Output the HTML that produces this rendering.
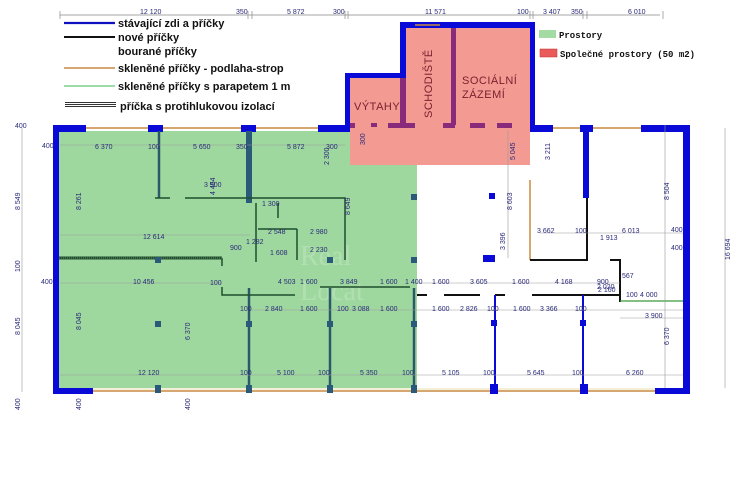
<!DOCTYPE html>
<html><head><meta charset="utf-8"><style>
html,body{margin:0;padding:0;background:#fff;}
svg{display:block;}
.d{font-family:"Liberation Sans",sans-serif;font-size:7px;fill:#2a2a7a;}
.l{font-family:"Liberation Sans",sans-serif;font-size:11px;font-weight:bold;fill:#111;}
.m{font-family:"Liberation Mono",monospace;font-size:9px;font-weight:bold;fill:#111;}
.r{font-family:"Liberation Sans",sans-serif;font-size:11px;fill:#7a2030;letter-spacing:0.5px;}
</style></head><body>
<svg width="740" height="493" viewBox="0 0 740 493" xmlns="http://www.w3.org/2000/svg">
<line x1="60" y1="15" x2="660" y2="15" stroke="#888" stroke-width="0.7"/>
<g stroke="#888" stroke-width="0.7">
<line x1="60" y1="11" x2="60" y2="19"/><line x1="248" y1="11" x2="248" y2="19"/><line x1="252" y1="11" x2="252" y2="19"/>
<line x1="345" y1="11" x2="345" y2="19"/><line x1="348" y1="11" x2="348" y2="19"/><line x1="530" y1="11" x2="530" y2="19"/><line x1="533" y1="11" x2="533" y2="19"/>
<line x1="583" y1="11" x2="583" y2="19"/><line x1="587" y1="11" x2="587" y2="19"/><line x1="663" y1="11" x2="663" y2="19"/>
</g>
<text class="d" x="140" y="14">12 120</text><text class="d" x="236" y="14">350</text><text class="d" x="287" y="14">5 872</text>
<text class="d" x="333" y="14">300</text><text class="d" x="425" y="14">11 571</text><text class="d" x="517" y="14">100</text>
<text class="d" x="543" y="14">3 407</text><text class="d" x="571" y="14">350</text><text class="d" x="628" y="14">6 010</text>

<line x1="64" y1="23" x2="115" y2="23" stroke="#1010c0" stroke-width="2.2"/>
<text class="l" x="118" y="27">stávající zdi a příčky</text>
<line x1="64" y1="37" x2="115" y2="37" stroke="#111" stroke-width="2"/>
<text class="l" x="118" y="41">nové příčky</text>
<text class="l" x="118" y="55">bourané příčky</text>
<line x1="64" y1="68" x2="115" y2="68" stroke="#c88a40" stroke-width="1.5"/>
<text class="l" x="118" y="72">skleněné příčky - podlaha-strop</text>
<line x1="64" y1="86" x2="115" y2="86" stroke="#7fcf8f" stroke-width="1.5"/>
<text class="l" x="118" y="90">skleněné příčky s parapetem 1 m</text>
<defs><pattern id="hatch" width="4" height="2" patternUnits="userSpaceOnUse"><rect width="4" height="1" fill="#333"/></pattern></defs>
<rect x="65" y="101" width="51" height="7" fill="url(#hatch)"/>
<text class="l" x="120" y="110">příčka s protihlukovou izolací</text>

<rect x="539" y="30" width="17" height="8" fill="#a3dba3"/>
<text class="m" x="559" y="38">Prostory</text>
<rect x="540" y="49" width="17" height="8" fill="#ea5a5a" stroke="#c03030" stroke-width="0.5"/>
<text class="m" x="560" y="57">Společné prostory (50 m2)</text>

<polygon points="59,131 350,131 350,165 417,165 417,388 59,388" fill="#9fd89f"/>
<rect x="350" y="28" width="180" height="137" fill="#f39b93"/>
<rect x="345" y="22" width="55" height="56" fill="#fff"/>

<text x="300" y="265" font-family="Liberation Serif,serif" font-size="28" fill="#fff" opacity="0.2">Real</text>
<text x="300" y="300" font-family="Liberation Serif,serif" font-size="28" fill="#fff" opacity="0.2">Locat</text>

<g fill="#0a0ad8">
<rect x="53" y="125" width="33" height="7"/><rect x="148" y="125" width="15" height="7"/><rect x="241" y="125" width="15" height="7"/>
<rect x="318" y="125" width="32" height="7"/>
<rect x="53" y="125" width="6" height="269"/>
<rect x="53" y="388" width="40" height="6"/>
<rect x="345" y="73" width="5" height="59"/><rect x="345" y="73" width="60" height="5"/>
<rect x="400" y="22" width="6" height="56"/><rect x="400" y="22" width="135" height="6"/>
<rect x="530" y="22" width="5" height="110"/>
<rect x="530" y="125" width="23" height="7"/><rect x="580" y="125" width="13" height="7"/><rect x="641" y="125" width="49" height="7"/>
<rect x="683" y="125" width="7" height="269"/>
<rect x="655" y="388" width="35" height="6"/>
<rect x="583" y="130" width="6" height="68"/>
</g>
<g stroke="#c88a40" stroke-width="1.5">
<line x1="86" y1="128" x2="148" y2="128"/><line x1="163" y1="128" x2="241" y2="128"/><line x1="256" y1="128" x2="318" y2="128"/>
<line x1="553" y1="128" x2="580" y2="128"/><line x1="593" y1="128" x2="641" y2="128"/>
<line x1="415" y1="25" x2="440" y2="25"/>
<line x1="93" y1="391" x2="655" y2="391"/>
<line x1="530" y1="180" x2="530" y2="260"/>
</g>
<line x1="93" y1="389" x2="655" y2="389" stroke="#e8e0b0" stroke-width="1"/>
<g fill="#8a2a7a">
<rect x="400" y="78" width="6" height="47"/><rect x="451" y="28" width="5" height="97"/>
<rect x="350" y="123" width="5" height="5"/><rect x="371" y="123" width="6" height="4"/><rect x="388" y="123" width="17" height="5"/>
<rect x="405" y="123" width="10" height="5"/><rect x="443" y="123" width="12" height="5"/><rect x="470" y="123" width="15" height="5"/><rect x="497" y="123" width="15" height="5"/>
</g>
<text class="r" x="354" y="110">VÝTAHY</text>
<text class="r" x="432" y="118" transform="rotate(-90 432 118)">SCHODIŠTĚ</text>
<text class="r" x="462" y="84">SOCIÁLNÍ</text>
<text class="r" x="462" y="98">ZÁZEMÍ</text>

<g stroke="#2a5a6a" stroke-width="2.5" fill="none">
<line x1="159" y1="131" x2="159" y2="198"/><line x1="249" y1="131" x2="249" y2="203"/>
<line x1="249" y1="288" x2="249" y2="388"/><line x1="330" y1="288" x2="330" y2="388"/><line x1="414" y1="288" x2="414" y2="388"/>
</g>
<rect x="246" y="131" width="6" height="72" fill="#2a5a7a"/>
<g stroke="#1e4e2e" stroke-width="1.5" fill="none">
<line x1="155" y1="198" x2="170" y2="198"/><line x1="185" y1="198" x2="250" y2="198"/>
<polyline points="250,198 345,198 345,260"/>
<polyline points="256,203 256,262"/><line x1="258" y1="229" x2="297" y2="229"/>
<line x1="297" y1="229" x2="297" y2="260"/><line x1="278" y1="203" x2="278" y2="218"/>
<polyline points="222,287 222,295 295,295"/><line x1="320" y1="287" x2="410" y2="287"/>
<line x1="59" y1="258" x2="222" y2="258" stroke-width="3"/><line x1="222" y1="258" x2="222" y2="266"/>
</g>
<line x1="59" y1="258" x2="222" y2="258" stroke="#6a8a6a" stroke-width="1" stroke-dasharray="1,1"/>
<g stroke="#111" stroke-width="2" fill="none">
<line x1="417" y1="295" x2="427" y2="295"/><line x1="444" y1="295" x2="480" y2="295"/><line x1="495" y1="295" x2="505" y2="295"/><line x1="532" y1="295" x2="620" y2="295"/>
<polyline points="530,260 587,260 587,198"/><polyline points="610,260 620,260 620,302"/>
<line x1="495" y1="295" x2="495" y2="388" stroke="#0a0ad8"/><line x1="583" y1="295" x2="583" y2="388" stroke="#0a0ad8"/>
</g>
<line x1="620" y1="301" x2="683" y2="301" stroke="#3a9a3a" stroke-width="1.2"/>
<g fill="#0a0ad8"><rect x="490" y="384" width="8" height="10"/><rect x="580" y="384" width="8" height="10"/><rect x="491" y="320" width="6" height="6"/><rect x="580" y="320" width="6" height="6"/>
<rect x="489" y="193" width="6" height="6"/><rect x="483" y="255" width="12" height="7"/></g>
<g fill="#2a5a7a"><rect x="155" y="321" width="6" height="6"/><rect x="246" y="321" width="6" height="6"/><rect x="327" y="321" width="6" height="6"/><rect x="411" y="321" width="6" height="6"/>
<rect x="155" y="257" width="6" height="6"/><rect x="411" y="194" width="6" height="6"/><rect x="411" y="257" width="6" height="6"/><rect x="327" y="257" width="6" height="6"/>
<rect x="155" y="385" width="6" height="8"/><rect x="246" y="385" width="6" height="8"/><rect x="327" y="385" width="6" height="8"/><rect x="411" y="385" width="6" height="8"/></g>

<g stroke="#999" stroke-width="0.6" fill="none">
<line x1="60" y1="145" x2="345" y2="145"/><line x1="60" y1="235" x2="250" y2="235"/><line x1="60" y1="283" x2="222" y2="283"/>
<line x1="60" y1="375" x2="683" y2="375"/><line x1="250" y1="310" x2="683" y2="310"/><line x1="417" y1="283" x2="620" y2="283"/>
<line x1="540" y1="233" x2="683" y2="233"/><line x1="620" y1="318" x2="683" y2="318"/>
<line x1="22" y1="128" x2="22" y2="392"/><line x1="725" y1="128" x2="725" y2="388"/><line x1="665" y1="125" x2="665" y2="388"/>
<line x1="508" y1="130" x2="508" y2="258"/>
</g>
<text class="d" x="42" y="148">400</text><text class="d" x="95" y="149">6 370</text><text class="d" x="148" y="149">100</text><text class="d" x="193" y="149">5 650</text>
<text class="d" x="236" y="149">350</text><text class="d" x="287" y="149">5 872</text><text class="d" x="326" y="149">300</text>
<text class="d" x="204" y="187">3 900</text><text class="d" x="143" y="239">12 614</text><text class="d" x="133" y="284">10 456</text><text class="d" x="210" y="285">100</text>
<text class="d" x="138" y="375">12 120</text><text class="d" x="240" y="375">100</text><text class="d" x="277" y="375">5 100</text><text class="d" x="318" y="375">100</text><text class="d" x="360" y="375">5 350</text>
<text class="d" x="402" y="375">100</text><text class="d" x="442" y="375">5 105</text><text class="d" x="483" y="375">100</text><text class="d" x="527" y="375">5 645</text><text class="d" x="572" y="375">100</text><text class="d" x="626" y="375">6 260</text>
<text class="d" x="240" y="311">100</text><text class="d" x="265" y="311">2 840</text><text class="d" x="300" y="311">1 600</text><text class="d" x="337" y="311">100</text><text class="d" x="352" y="311">3 088</text><text class="d" x="380" y="311">1 600</text>
<text class="d" x="432" y="311">1 600</text><text class="d" x="460" y="311">2 826</text><text class="d" x="487" y="311">100</text><text class="d" x="513" y="311">1 600</text><text class="d" x="540" y="311">3 366</text><text class="d" x="575" y="311">100</text>
<text class="d" x="278" y="284">4 503</text><text class="d" x="300" y="284">1 600</text><text class="d" x="340" y="284">3 849</text><text class="d" x="380" y="284">1 600</text><text class="d" x="405" y="284">1 400</text>
<text class="d" x="432" y="284">1 600</text><text class="d" x="470" y="284">3 605</text><text class="d" x="512" y="284">1 600</text><text class="d" x="555" y="284">4 168</text><text class="d" x="597" y="284">900</text>
<text class="d" x="626" y="297">100</text><text class="d" x="640" y="297">4 000</text><text class="d" x="645" y="318">3 900</text><text class="d" x="622" y="278">567</text>
<text class="d" x="537" y="233">3 662</text><text class="d" x="575" y="233">100</text><text class="d" x="622" y="233">6 013</text><text class="d" x="671" y="232">400</text><text class="d" x="671" y="250">400</text><text class="d" x="600" y="240">1 913</text>
<text class="d" x="598" y="292">2 160</text><text class="d" x="597" y="289">2 020</text>
<text class="d" x="262" y="206">1 300</text><text class="d" x="268" y="234">2 548</text><text class="d" x="310" y="234">2 980</text><text class="d" x="246" y="244">1 282</text>
<text class="d" x="230" y="250">900</text><text class="d" x="270" y="255">1 608</text><text class="d" x="310" y="252">2 230</text>
<text class="d" x="15" y="128">400</text><text class="d" x="41" y="284">400</text>
<text class="d" x="20" y="210" transform="rotate(-90 20 210)">8 549</text><text class="d" x="20" y="272" transform="rotate(-90 20 272)">100</text>
<text class="d" x="20" y="335" transform="rotate(-90 20 335)">8 045</text><text class="d" x="20" y="410" transform="rotate(-90 20 410)">400</text>
<text class="d" x="81" y="210" transform="rotate(-90 81 210)">8 261</text><text class="d" x="81" y="330" transform="rotate(-90 81 330)">8 045</text>
<text class="d" x="190" y="340" transform="rotate(-90 190 340)">6 370</text><text class="d" x="215" y="195" transform="rotate(-90 215 195)">4 454</text>
<text class="d" x="81" y="410" transform="rotate(-90 81 410)">400</text><text class="d" x="190" y="410" transform="rotate(-90 190 410)">400</text>
<text class="d" x="730" y="260" transform="rotate(-90 730 260)">16 694</text><text class="d" x="669" y="200" transform="rotate(-90 669 200)">8 504</text>
<text class="d" x="669" y="345" transform="rotate(-90 669 345)">6 370</text><text class="d" x="512" y="210" transform="rotate(-90 512 210)">8 603</text>
<text class="d" x="505" y="250" transform="rotate(-90 505 250)">3 396</text><text class="d" x="550" y="160" transform="rotate(-90 550 160)">3 211</text>
<text class="d" x="515" y="160" transform="rotate(-90 515 160)">5 045</text><text class="d" x="350" y="215" transform="rotate(-90 350 215)">8 649</text>
<text class="d" x="329" y="165" transform="rotate(-90 329 165)">2 300</text><text class="d" x="365" y="145" transform="rotate(-90 365 145)">300</text>
</svg>
</body></html>
